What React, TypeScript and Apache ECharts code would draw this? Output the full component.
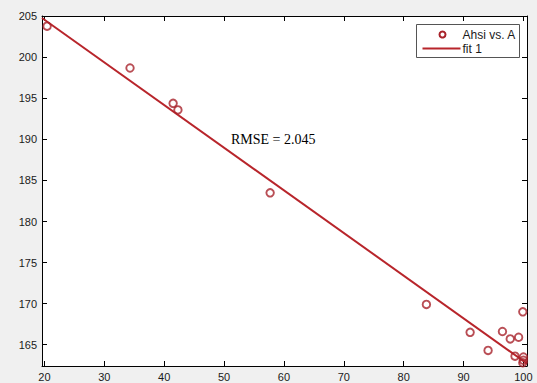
import React, { useEffect, useRef } from "react";
import * as echarts from "echarts";

// Scatter data (Ahsi vs. A)
const pointsX = [20.45, 34.3, 41.5, 42.3, 57.7, 83.8, 91.1, 94.1, 96.5, 97.8, 99.2, 99.9, 98.6, 100.0, 99.9, 100.0];
const pointsY = [203.8, 198.7, 194.4, 193.6, 183.5, 169.9, 166.5, 164.3, 166.6, 165.7, 165.9, 169.0, 163.6, 163.1, 162.8, 163.5];

// Fit line end points (fit 1)
const fitX = [19.6, 100.6];
const fitY = [204.8, 162.7];

// Tick values
const xTicks = [20, 30, 40, 50, 60, 70, 80, 90, 100];
const yTicks = [165, 170, 175, 180, 185, 190, 195, 200, 205];

const seriesNames = ["Ahsi vs. A", "fit 1"];
const annotationText = "RMSE = 2.045";

const RED_MARK = "#a8222a";
const RED_LINE = "#b8252b";

export default function App() {
  const ref = useRef<HTMLDivElement>(null);

  useEffect(() => {
    if (!ref.current) return;
    const chart = echarts.init(ref.current, null, { renderer: "svg" });

    const labelStyle = {
      fontFamily: "Liberation Sans, Arial, sans-serif",
      fontSize: 11,
      color: "#1a1a1a",
    };

    const grid = { left: 42, top: 16, width: 485, height: 350 };
    const xRange = { min: 19.6, max: 100.6 };
    const yRange = { min: 162.4, max: 205.04 };

    const option: echarts.EChartsOption = {
      animation: false,
      backgroundColor: "#f0f0f0",
      grid: { ...grid, show: true, backgroundColor: "#ffffff", borderWidth: 0 },
      xAxis: [
        {
          type: "value",
          position: "bottom",
          ...xRange,
          axisLine: { show: true, onZero: false, lineStyle: { color: "#000", width: 1 } },
          axisTick: { show: true, inside: true, length: 5, customValues: xTicks, lineStyle: { color: "#000" } },
          axisLabel: { ...labelStyle, margin: 5, customValues: xTicks },
          splitLine: { show: false },
        },
        {
          type: "value",
          position: "top",
          ...xRange,
          axisLine: { show: true, onZero: false, lineStyle: { color: "#000", width: 1 } },
          axisTick: { show: true, inside: true, length: 5, customValues: xTicks, lineStyle: { color: "#000" } },
          axisLabel: { show: false },
          splitLine: { show: false },
        },
      ],
      yAxis: [
        {
          type: "value",
          position: "left",
          ...yRange,
          axisLine: { show: true, onZero: false, lineStyle: { color: "#000", width: 1 } },
          axisTick: { show: true, inside: true, length: 5, customValues: yTicks, lineStyle: { color: "#000" } },
          axisLabel: { ...labelStyle, margin: 5, customValues: yTicks },
          splitLine: { show: false },
        },
        {
          type: "value",
          position: "right",
          ...yRange,
          axisLine: { show: true, onZero: false, lineStyle: { color: "#000", width: 1 } },
          axisTick: { show: true, inside: true, length: 5, customValues: yTicks, lineStyle: { color: "#000" } },
          axisLabel: { show: false },
          splitLine: { show: false },
        },
      ],
      series: [
        {
          name: seriesNames[1],
          type: "line",
          xAxisIndex: 0,
          yAxisIndex: 0,
          data: fitX.map((x, i) => [x, fitY[i]]),
          symbol: "none",
          lineStyle: { color: RED_LINE, width: 2 },
          z: 2,
        },
        {
          name: seriesNames[0],
          type: "scatter",
          xAxisIndex: 0,
          yAxisIndex: 0,
          data: pointsX.map((x, i) => [x, pointsY[i]]),
          symbol: "circle",
          symbolSize: 7.5,
          itemStyle: { color: "rgba(0,0,0,0)", borderColor: RED_MARK, borderWidth: 1.9 },
          z: 3,
        },
      ],
      graphic: [
        {
          type: "text",
          left: 231,
          top: 132,
          style: {
            text: annotationText,
            fontFamily: "Liberation Serif, Times New Roman, serif",
            fontSize: 14,
            fill: "#000",
          },
          z: 10,
        },
        {
          type: "group",
          left: 416,
          top: 24,
          z: 20,
          children: [
            {
              type: "rect",
              shape: { x: 0, y: 0, width: 103, height: 33 },
              style: { fill: "#ffffff", stroke: "#555555", lineWidth: 1 },
            },
            {
              type: "circle",
              shape: { cx: 26, cy: 10, r: 3 },
              style: { fill: "none", stroke: RED_MARK, lineWidth: 2 },
            },
            {
              type: "line",
              shape: { x1: 6, y1: 24, x2: 44, y2: 24 },
              style: { stroke: RED_LINE, lineWidth: 2 },
            },
            {
              type: "text",
              x: 46,
              y: 10,
              style: {
                text: seriesNames[0],
                fontFamily: "Liberation Sans, Arial, sans-serif",
                fontSize: 12,
                fill: "#1a1a1a",
                verticalAlign: "middle",
              },
            },
            {
              type: "text",
              x: 46,
              y: 24,
              style: {
                text: seriesNames[1],
                fontFamily: "Liberation Sans, Arial, sans-serif",
                fontSize: 12,
                fill: "#1a1a1a",
                verticalAlign: "middle",
              },
            },
          ],
        },
      ],
    };

    chart.setOption(option);
    return () => chart.dispose();
  }, []);

  return (
    <div
      ref={ref}
      style={{ position: "fixed", left: 0, top: 0, width: 537, height: 383 }}
    />
  );
}
